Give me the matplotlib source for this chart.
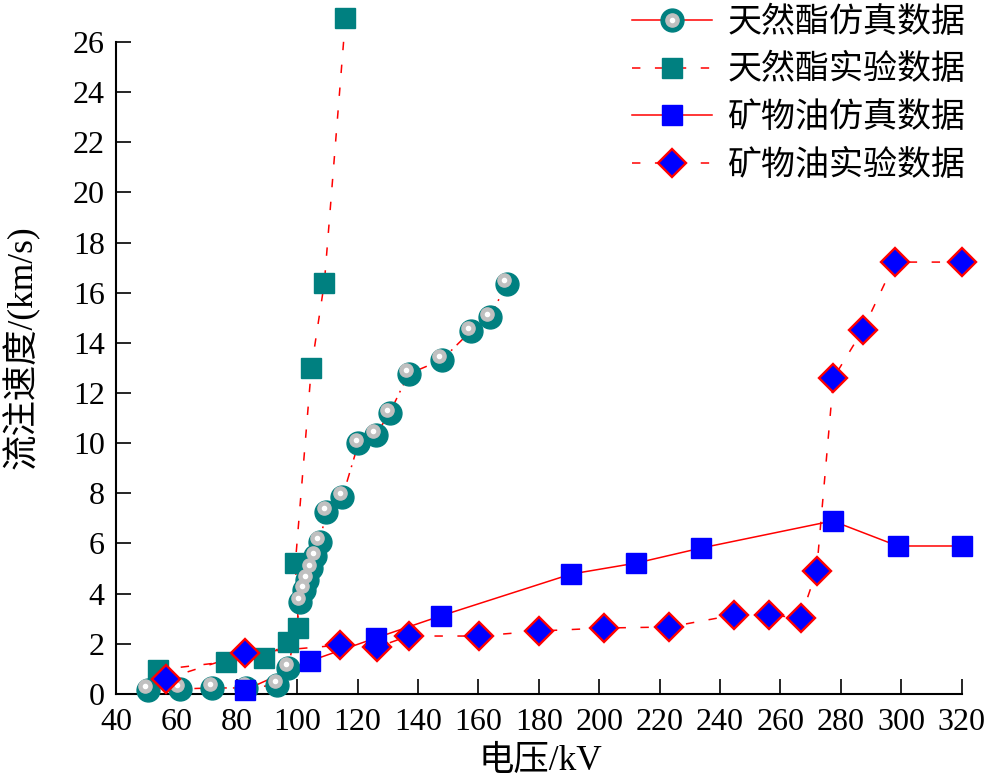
import matplotlib
matplotlib.use("Agg")
import matplotlib.pyplot as plt
from matplotlib.lines import Line2D
from matplotlib.legend_handler import HandlerTuple
from matplotlib.transforms import ScaledTranslation

plt.rcParams['font.family'] = ['Liberation Serif', 'Noto Sans CJK SC']
plt.rcParams['font.size'] = 22

# 天然酯仿真数据
ester_sim_kv = [50.6, 61.2, 71.9, 83.1, 93.4, 97.1, 101.1, 102.4, 103.4, 104.7, 106.0, 107.4,
                109.7, 115.0, 120.3, 126.0, 130.6, 136.9, 147.9, 157.5, 163.8, 169.4]
ester_sim_v = [0.16, 0.2, 0.24, 0.24, 0.36, 1.04, 3.67, 4.15, 4.55, 5.02, 5.5, 6.06,
               7.26, 7.86, 10.0, 10.33, 11.2, 12.76, 13.32, 14.47, 15.03, 16.35]
# 天然酯实验数据
ester_exp_kv = [53.9, 76.5, 89.1, 97.1, 100.4, 99.4, 104.7, 109.0, 116.0]
ester_exp_v = [0.96, 1.28, 1.44, 2.07, 2.63, 5.22, 13.0, 16.39, 26.95]
# 矿物油仿真数据
oil_sim_kv = [82.8, 104.4, 126.0, 147.5, 190.7, 212.3, 233.8, 277.3, 298.9, 320.0]
oil_sim_v = [0.16, 1.32, 2.23, 3.11, 4.78, 5.22, 5.82, 6.9, 5.9, 5.9]
# 矿物油实验数据
oil_exp_kv = [56.5, 82.8, 114.3, 126.6, 136.9, 160.1, 180.1, 201.6, 223.2, 244.8, 256.1,
              266.7, 272.0, 277.6, 287.3, 297.9, 320.0]
oil_exp_v = [0.6, 1.62, 1.95, 1.87, 2.31, 2.31, 2.51, 2.63, 2.67, 3.15, 3.15,
             3.03, 4.9, 12.6, 14.51, 17.22, 17.22]

labels = ["天然酯仿真数据", "天然酯实验数据", "矿物油仿真数据", "矿物油实验数据"]
xticks = list(range(40, 321, 20))
yticks = list(range(0, 27, 2))

red = "#ff0000"
teal = "#008080"
blue = "#0000ff"
lw = 1.1
dash = (5.5, 9.5)
dashdot = (6, 4, 1.2, 4)

fig = plt.figure(figsize=(9.87, 7.8), dpi=100)
ax = fig.add_axes([0.1175, 0.1103, 0.8567, 0.8897])

# lines
ax.plot(ester_sim_kv, ester_sim_v, color=red, lw=lw, dashes=dashdot, clip_on=False, zorder=2)
ax.plot(ester_exp_kv, ester_exp_v, color=red, lw=lw, dashes=dash, clip_on=False, zorder=2)
ax.plot(oil_sim_kv, oil_sim_v, color=red, lw=lw, ls='-', clip_on=False, zorder=2)
ax.plot(oil_exp_kv, oil_exp_v, color=red, lw=lw, dashes=dash, clip_on=False, zorder=2)

# markers
ax.plot(ester_exp_kv, ester_exp_v, ls='none', marker='s', ms=15, mfc=teal, mec=teal,
        clip_on=False, zorder=3)
shift = ScaledTranslation(-2.5 / 100, 3.5 / 100, fig.dpi_scale_trans)
ax.plot(ester_sim_kv, ester_sim_v, ls='none', marker='o', ms=16.5, mfc=teal, mec=teal,
        clip_on=False, zorder=4)
ax.plot(ester_sim_kv, ester_sim_v, ls='none', marker='o', ms=9.5, mfc='#c0c0c0', mec='#c0c0c0',
        transform=ax.transData + shift, clip_on=False, zorder=4)
ax.plot(ester_sim_kv, ester_sim_v, ls='none', marker='o', ms=3, mfc='white', mec='white',
        transform=ax.transData + shift, clip_on=False, zorder=4)
ax.plot(oil_exp_kv, oil_exp_v, ls='none', marker='D', ms=14.5, mfc=blue, mec=red, mew=1.7,
        clip_on=False, zorder=5)
ax.plot(oil_sim_kv, oil_sim_v, ls='none', marker='s', ms=15, mfc=blue, mec=blue,
        clip_on=False, zorder=6)

ax.set_xlim(40, 320)
ax.set_ylim(0, 27.67)
ax.set_xticks(xticks)
ax.set_yticks(yticks)
ax.spines['top'].set_visible(False)
ax.spines['right'].set_visible(False)
ax.spines['left'].set_bounds(0, 26)
ax.spines['left'].set_linewidth(1.5)
ax.spines['bottom'].set_linewidth(1.5)
ax.tick_params(direction='in', length=10.5, width=1.2, labelsize=23)
ax.tick_params(axis='x', pad=10)
ax.tick_params(axis='y', pad=8)

ax.set_xlabel("电压/kV", fontsize=25.5)
ax.xaxis.set_label_coords(0.502, -0.074)
ax.set_ylabel("流注速度/(km/s)", fontsize=25.5)
ax.yaxis.set_label_coords(-0.09, 0.5)

# legend
h1 = (Line2D([], [], color=red, lw=lw),
      Line2D([], [], ls='none', marker='o', ms=16.5, mfc=teal, mec=teal),
      Line2D([], [], ls='none', marker='o', ms=9.5, mfc='#c0c0c0', mec='#c0c0c0'),
      Line2D([], [], ls='none', marker='o', ms=3, mfc='white', mec='white'))
h2 = (Line2D([], [], color=red, lw=lw, dashes=dash),
      Line2D([], [], ls='none', marker='s', ms=15, mfc=teal, mec=teal))
h3 = (Line2D([], [], color=red, lw=lw),
      Line2D([], [], ls='none', marker='s', ms=15, mfc=blue, mec=blue))
h4 = (Line2D([], [], color=red, lw=lw, dashes=dash),
      Line2D([], [], ls='none', marker='D', ms=14.5, mfc=blue, mec=red, mew=1.7))
ax.legend([h1, h2, h3, h4], labels, handler_map={tuple: HandlerTuple(ndivide=1, pad=0)},
          loc='upper left', bbox_to_anchor=(632 / 987, 0.992), bbox_transform=fig.transFigure,
          frameon=False, fontsize=24.5, handlelength=2.35, handletextpad=0.45,
          labelspacing=0.46, borderpad=0, borderaxespad=0)

plt.savefig("out.png", dpi=100)
